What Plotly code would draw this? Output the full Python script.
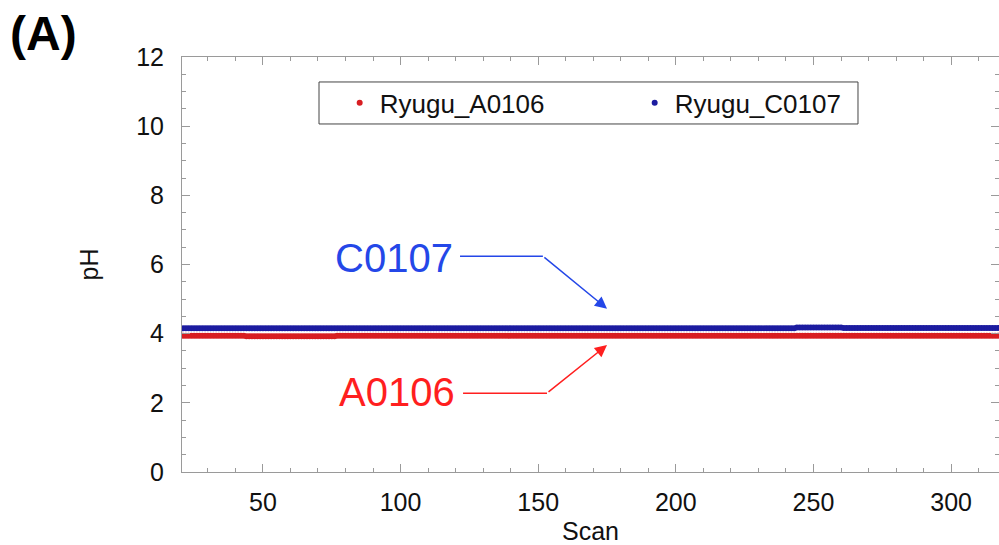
import plotly.graph_objects as go

# pH readings per scan, stored as runs of (first scan, last scan, pH)
a0106_runs = [(1, 43, 3.94), (44, 76, 3.925), (77, 330, 3.94)]
c0107_runs = [(1, 243, 4.155), (244, 260, 4.175), (261, 330, 4.165)]

series_names = ["Ryugu_A0106", "Ryugu_C0107"]
series_colors = ["#d81e22", "#1c1ca0"]
callout_labels = ["A0106", "C0107"]
callout_colors = ["#ff1f1f", "#2447e8"]

x_ticks = [50, 100, 150, 200, 250, 300]
y_ticks = [0, 2, 4, 6, 8, 10, 12]


def expand(runs):
    xs, ys = [], []
    for first, last, value in runs:
        for s in range(first, last + 1):
            xs.append(s)
            ys.append(value)
    return xs, ys


FONT = "Liberation Sans, Arial, Helvetica, sans-serif"
AXIS_GRAY = "#9a9a9a"
TEXT = "#111111"

fig = go.Figure()
for runs, name, color in zip([a0106_runs, c0107_runs], series_names, series_colors):
    xs, ys = expand(runs)
    fig.add_trace(go.Scatter(
        x=xs, y=ys, mode="markers", name=name,
        marker=dict(color=color, size=6, line=dict(width=0)),
    ))

axis_common = dict(
    showline=True, linecolor=AXIS_GRAY, linewidth=1,
    mirror="allticks", ticks="inside", ticklen=8, tickwidth=1, tickcolor=AXIS_GRAY,
    showgrid=False, zeroline=False,
    tickfont=dict(family=FONT, size=25, color=TEXT),
)

fig.update_xaxes(
    range=[20.6, 317.4], tickvals=x_ticks,
    minor=dict(dtick=10, tick0=0, ticks="inside", ticklen=4, tickcolor=AXIS_GRAY, showgrid=False),
    title=dict(text="Scan", font=dict(family=FONT, size=25, color=TEXT), standoff=12),
    ticklabelstandoff=8,
    **axis_common,
)
fig.update_yaxes(
    range=[0, 12], tickvals=y_ticks,
    minor=dict(dtick=0.5, tick0=0, ticks="inside", ticklen=4, tickcolor=AXIS_GRAY, showgrid=False),
    title=dict(text="pH", font=dict(family=FONT, size=25, color=TEXT), standoff=30),
    ticklabelstandoff=12,
    **axis_common,
)

# call-outs: label, horizontal leader and angled arrow pointing at each series
callouts = [
    dict(text_xy=(120.5, 2.31), lead=(122.7, 153.2), lead_y=2.28, tip=(175, 3.67)),
    dict(text_xy=(119.8, 6.18), lead=(121.6, 151.7), lead_y=6.24, tip=(175, 4.72)),
]
for c, label, color in zip(callouts, callout_labels, callout_colors):
    fig.add_annotation(
        x=c["text_xy"][0], y=c["text_xy"][1], xref="x", yref="y",
        text=label, showarrow=False, xanchor="right", yanchor="middle",
        font=dict(family=FONT, size=40, color=color),
    )
    fig.add_shape(
        type="line", xref="x", yref="y",
        x0=c["lead"][0], x1=c["lead"][1], y0=c["lead_y"], y1=c["lead_y"],
        line=dict(color=color, width=1.5),
    )
    fig.add_annotation(
        x=c["tip"][0], y=c["tip"][1], xref="x", yref="y",
        ax=c["lead"][1], ay=c["lead_y"], axref="x", ayref="y",
        text="", showarrow=True, arrowhead=2, arrowsize=1.6, arrowwidth=1.5,
        arrowcolor=color, standoff=0,
    )

# panel letters
fig.add_annotation(
    x=-0.213, y=1.125, xref="paper", yref="paper", xanchor="left", yanchor="top",
    text="<b>(A)</b>", showarrow=False, font=dict(family=FONT, size=48, color="#000000"),
)
fig.add_annotation(
    x=-0.213, y=-0.157, xref="paper", yref="paper", xanchor="left", yanchor="top",
    text="<b>(B)</b>", showarrow=False, font=dict(family=FONT, size=48, color="#000000"),
)

# legend frame
fig.add_shape(
    type="rect", xref="paper", yref="paper",
    x0=0.1677, x1=0.8274, y0=0.8386, y1=0.9398,
    line=dict(color="#444444", width=1), fillcolor="white", layer="below",
)

fig.update_layout(
    width=999, height=545,
    margin=dict(l=182, r=0, t=57, b=73, autoexpand=False),
    paper_bgcolor="white", plot_bgcolor="white",
    showlegend=True,
    legend=dict(
        orientation="h", x=0.193, y=0.946, xanchor="left", yanchor="top",
        borderwidth=0, bgcolor="rgba(0,0,0,0)",
        font=dict(family=FONT, size=26, color=TEXT),
        entrywidth=250, entrywidthmode="pixels", itemsizing="trace",
    ),
)

fig.write_html("out.html")
